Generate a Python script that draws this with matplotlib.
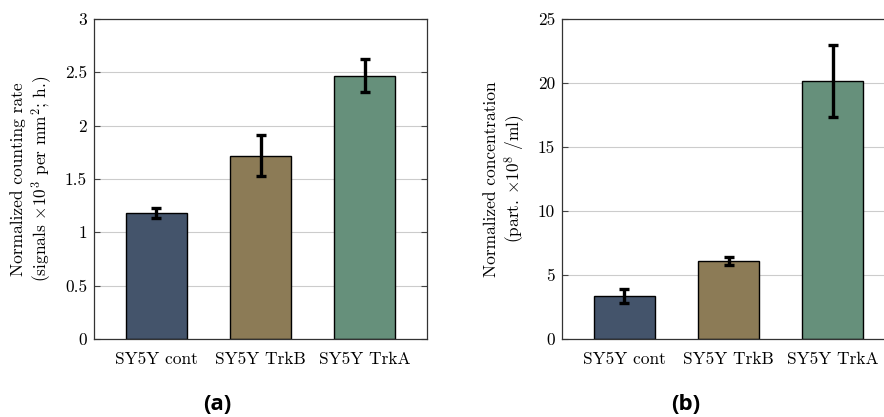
import matplotlib

matplotlib.use("Agg")
import matplotlib.pyplot as plt

categories = ["SY5Y cont", "SY5Y TrkB", "SY5Y TrkA"]
rate = [1.18, 1.72, 2.47]
rate_err = [0.05, 0.19, 0.155]
conc = [3.36, 6.09, 20.16]
conc_err = [0.57, 0.29, 2.8]
colors = ["#44546b", "#8c7b56", "#66907b"]

plt.rcParams["font.family"] = "serif"
plt.rcParams["font.serif"] = ["cmr10"]
plt.rcParams["mathtext.fontset"] = "cm"
plt.rcParams["axes.formatter.use_mathtext"] = True

W, H = 884, 417
fig = plt.figure(figsize=(W / 100, H / 100), dpi=100)
ax1 = fig.add_axes([94 / W, 1 - 339 / H, 333 / W, 320 / H])
ax2 = fig.add_axes([562 / W, 1 - 339 / H, 333 / W, 320 / H])


def panel(ax, values, errors, ylim, ticks, ylabel):
    x = range(len(categories))
    ax.bar(x, values, width=0.59, color=colors, edgecolor="black", linewidth=1.0, zorder=2)
    ax.errorbar(x, values, yerr=errors, fmt="none", ecolor="black", elinewidth=2.4,
                capsize=3.8, capthick=2.4, zorder=3)
    ax.set_xlim(-0.6, 2.6)
    ax.set_ylim(*ylim)
    ax.set_yticks(ticks)
    ax.set_yticklabels([f"{t:g}" for t in ticks])
    ax.set_xticks(list(x))
    ax.set_xticklabels(categories)
    ax.tick_params(axis="x", length=0, pad=9, labelsize=12.5)
    ax.tick_params(axis="y", direction="in", length=4, width=0.8, color="#444444",
                   left=True, right=True, labelsize=12.5, pad=5)
    ax.grid(axis="y", color="#cccccc", linewidth=0.8, zorder=0)
    ax.set_axisbelow(True)
    for s in ax.spines.values():
        s.set_linewidth(0.9)
        s.set_color("#333333")
    ax.set_ylabel(ylabel, fontsize=12.5, linespacing=1.15, labelpad=8)


panel(ax1, rate, rate_err, (0, 3), [0, 0.5, 1, 1.5, 2, 2.5, 3],
      "Normalized counting rate\n(signals $\\times10^3$ per mm$^2$; h.)")
panel(ax2, conc, conc_err, (0, 25), [0, 5, 10, 15, 20, 25],
      "Normalized concentration\n(part. $\\times10^8$ /ml)")

fig.text(217 / W, 1 - 404 / H, "(a)", ha="center", va="center", fontsize=16,
         fontweight="bold", family="Open Sans")
fig.text(686 / W, 1 - 404 / H, "(b)", ha="center", va="center", fontsize=16,
         fontweight="bold", family="Open Sans")

fig.savefig("out.png", dpi=100)
